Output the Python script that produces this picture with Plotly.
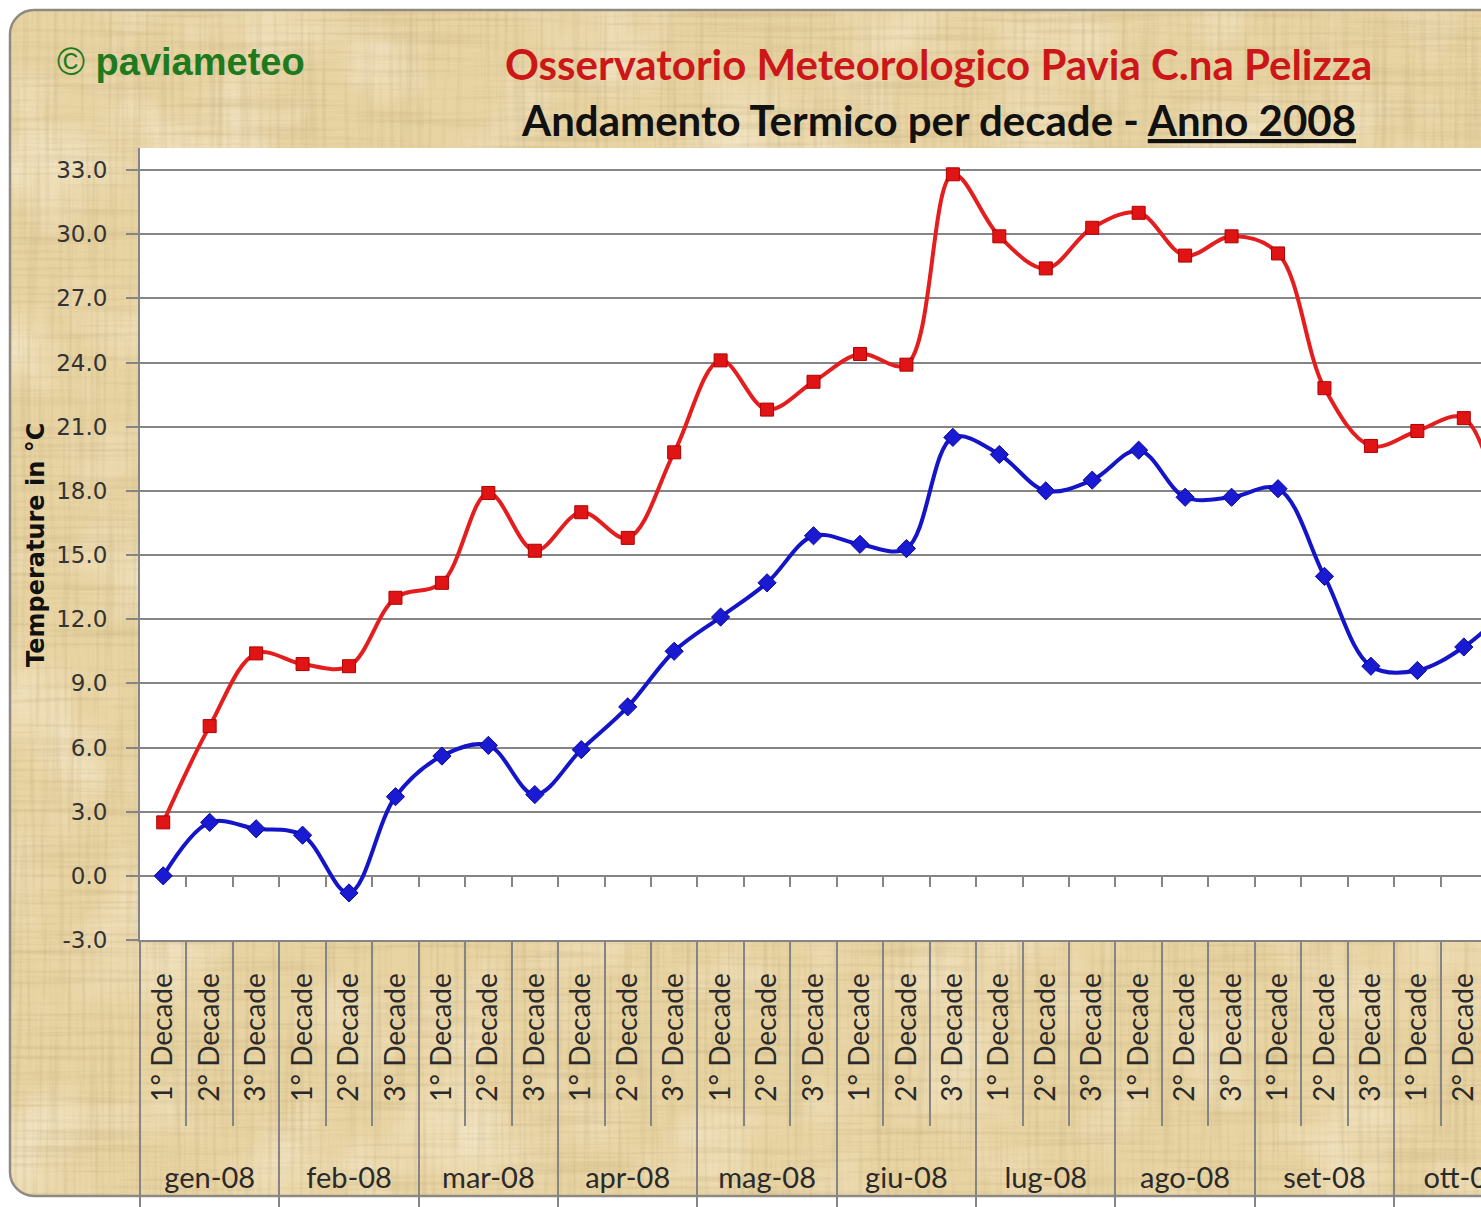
import base64
import plotly.graph_objects as go

# ---------------- data ----------------
months = ["gen-08", "feb-08", "mar-08", "apr-08", "mag-08",
          "giu-08", "lug-08", "ago-08", "set-08", "ott-08"]
decades = ["1° Decade", "2° Decade", "3° Decade"]
t_max = [2.5, 7.0, 10.4, 9.9, 9.8, 13.0, 13.7, 17.9, 15.2, 17.0,
         15.8, 19.8, 24.1, 21.8, 23.1, 24.4, 23.9, 32.8, 29.9, 28.4,
         30.3, 31.0, 29.0, 29.9, 29.1, 22.8, 20.1, 20.8, 21.4, 14.5]
t_min = [0.0, 2.5, 2.2, 1.9, -0.8, 3.7, 5.6, 6.1, 3.8, 5.9,
         7.9, 10.5, 12.1, 13.7, 15.9, 15.5, 15.3, 20.5, 19.7, 18.0,
         18.5, 19.9, 17.7, 17.7, 18.1, 14.0, 9.8, 9.6, 10.7, 12.6]
y_ticks = [-3.0, 0.0, 3.0, 6.0, 9.0, 12.0, 15.0, 18.0, 21.0, 24.0, 27.0, 30.0, 33.0]
y_ticktext = [f"{v:.1f}" for v in y_ticks]

# ---------------- geometry ----------------
W, H = 1481, 1207
L, T, B = 140, 148, 267
PW, PH = W - L, H - T - B
XR = [-0.5, 28.37]
YR = [-3.0, 34.03]
GRAY = "#858585"

idx = list(range(len(t_max)))
dec_labels = [d for m in months for d in decades]

# ---------------- papyrus background (SVG) ----------------
fib = "0 0 0 0 0.50 0 0 0 0 0.38 0 0 0 0 0.18 1.8 0 0 0 -0.85"
svg = f"""<svg xmlns='http://www.w3.org/2000/svg' width='{W}' height='{H}' viewBox='0 0 {W} {H}'>
<defs>
<clipPath id='c'><rect x='10' y='10' width='1600' height='1186' rx='24' ry='24'/></clipPath>
<filter id='h' x='0' y='0' width='{W}' height='{H}' filterUnits='userSpaceOnUse'>
<feTurbulence type='fractalNoise' baseFrequency='0.006 0.22' numOctaves='3' seed='4'/>
<feColorMatrix type='matrix' values='{fib}'/>
</filter>
<filter id='v' x='0' y='0' width='{W}' height='{H}' filterUnits='userSpaceOnUse'>
<feTurbulence type='fractalNoise' baseFrequency='0.22 0.006' numOctaves='3' seed='9'/>
<feColorMatrix type='matrix' values='{fib}'/>
</filter>
<filter id='m' x='0' y='0' width='{W}' height='{H}' filterUnits='userSpaceOnUse'>
<feTurbulence type='fractalNoise' baseFrequency='0.01' numOctaves='3' seed='2'/>
<feColorMatrix type='matrix' values='0 0 0 0 1 0 0 0 0 0.96 0 0 0 0 0.86 1.6 0 0 0 -0.7'/>
</filter>
</defs>
<g clip-path='url(#c)'>
<rect x='0' y='0' width='{W}' height='{H}' fill='#E8D3A2'/>
<rect x='0' y='0' width='{W}' height='{H}' filter='url(#m)' opacity='0.6'/>
<rect x='0' y='0' width='{W}' height='{H}' filter='url(#h)' opacity='0.4'/>
<rect x='0' y='0' width='{W}' height='{H}' filter='url(#v)' opacity='0.4'/>
</g>
<rect x='10' y='10' width='1600' height='1186' rx='24' ry='24' fill='none' stroke='#8E8A82' stroke-width='2.5'/>
</svg>"""
bg_uri = "data:image/svg+xml;base64," + base64.b64encode(svg.encode()).decode()

fig = go.Figure()

# helper traces so overlay axes exist
for ax in ["x2", "x3", "x4", "x5"]:
    fig.add_trace(go.Scatter(x=idx, y=t_min, xaxis=ax, yaxis="y", mode="none",
                             showlegend=False, hoverinfo="skip"))

fig.add_trace(go.Scatter(
    x=idx, y=t_max, mode="lines+markers", name="Max",
    line=dict(color="#E41E1E", width=4, shape="spline", smoothing=1),
    marker=dict(symbol="square", size=13, color="#E01414",
                line=dict(color="#B00000", width=1)),
    showlegend=False))
fig.add_trace(go.Scatter(
    x=idx, y=t_min, mode="lines+markers", name="Min",
    line=dict(color="#1414C8", width=4, shape="spline", smoothing=1),
    marker=dict(symbol="diamond", size=14, color="#1A1AD2",
                line=dict(color="#0A0A9A", width=1)),
    showlegend=False))

common = dict(range=XR, showgrid=False, zeroline=False, automargin=False, fixedrange=True)

zero_pos = (0 - YR[0]) / (YR[1] - YR[0])

fig.update_layout(
    width=W, height=H,
    margin=dict(l=L, r=0, t=T, b=B, autoexpand=False),
    paper_bgcolor="white",
    plot_bgcolor="white",
    xaxis=dict(**common, tickmode="array", tickvals=idx, ticktext=dec_labels,
               tickangle=-90, ticks="", ticklabelstandoff=20, ticklabeloverflow="allow",
               tickfont=dict(family="Lato", size=28, color="#2a2a2a"),
               showline=True, linecolor=GRAY, linewidth=2),
    xaxis2=dict(**common, overlaying="x", anchor="y", side="bottom",
                tickmode="array", tickvals=[i + 0.5 for i in idx if (i + 1) % 3],
                ticks="outside", ticklen=185, tickwidth=1.5, tickcolor=GRAY,
                showticklabels=False, showline=False),
    xaxis3=dict(**common, overlaying="x", anchor="y", side="bottom",
                tickmode="array", tickvals=[3 * k - 0.5 for k in range(len(months) + 1)],
                ticks="outside", ticklen=300, tickwidth=1.5, tickcolor=GRAY,
                showticklabels=False, showline=False),
    xaxis4=dict(**common, overlaying="x", anchor="y", side="bottom",
                tickmode="array", tickvals=[3 * k + 1 for k in range(len(months))],
                ticktext=months, ticks="", ticklabelstandoff=218, ticklabeloverflow="allow",
                tickfont=dict(family="Lato", size=29, color="#2a2a2a"),
                showline=False),
    xaxis5=dict(**common, overlaying="x", anchor="free", position=zero_pos, side="bottom",
                tickmode="array", tickvals=[i + 0.5 for i in idx],
                ticks="outside", ticklen=10, tickwidth=2, tickcolor=GRAY,
                showticklabels=False, showline=False),
    yaxis=dict(range=YR, tickmode="array", tickvals=y_ticks, ticktext=y_ticktext,
               showgrid=True, gridcolor=GRAY, gridwidth=1.5, zeroline=False,
               ticks="outside", ticklen=12, tickcolor=GRAY, tickwidth=1.5,
               showline=True, linecolor=GRAY, linewidth=2,
               tickfont=dict(family="DejaVu Sans", size=23, color="#333333"),
               ticklabelstandoff=14, automargin=False, fixedrange=True),
    images=[dict(source=bg_uri, xref="paper", yref="paper",
                 x=-L / PW, y=(PH + T) / PH, sizex=W / PW, sizey=H / PH,
                 xanchor="left", yanchor="top", sizing="stretch", layer="below")],
    shapes=[dict(type="rect", xref="paper", yref="paper", x0=0, x1=1, y0=0, y1=1,
                 fillcolor="white", line=dict(width=0), layer="below")],
    annotations=[
        dict(text="© <b>paviameteo</b>", xref="paper", yref="paper",
             x=(55 - L) / PW, y=(PH + T - 62) / PH, xanchor="left", yanchor="middle",
             showarrow=False, font=dict(family="Liberation Sans", size=38, color="#1E7A1E")),
        dict(text="<b>Osservatorio Meteorologico Pavia C.na Pelizza</b>", xref="paper", yref="paper",
             x=(938 - L) / PW, y=(PH + T - 64) / PH, xanchor="center", yanchor="middle",
             showarrow=False, font=dict(family="Lato", size=42, color="#CC1719")),
        dict(text="<b>Andamento Termico per decade - <u>Anno 2008</u></b>", xref="paper", yref="paper",
             x=(938 - L) / PW, y=(PH + T - 120) / PH, xanchor="center", yanchor="middle",
             showarrow=False, font=dict(family="Lato", size=42, color="#111111")),
        dict(text="<b>Temperature in °C</b>", xref="paper", yref="paper",
             x=(36 - L) / PW, y=(PH + T - 545) / PH, xanchor="center", yanchor="middle",
             textangle=-90, showarrow=False,
             font=dict(family="DejaVu Sans", size=24, color="#111111")),
    ],
)

fig.write_html("out.html", config={"displayModeBar": False},
               post_script="document.body.style.margin='0';")
